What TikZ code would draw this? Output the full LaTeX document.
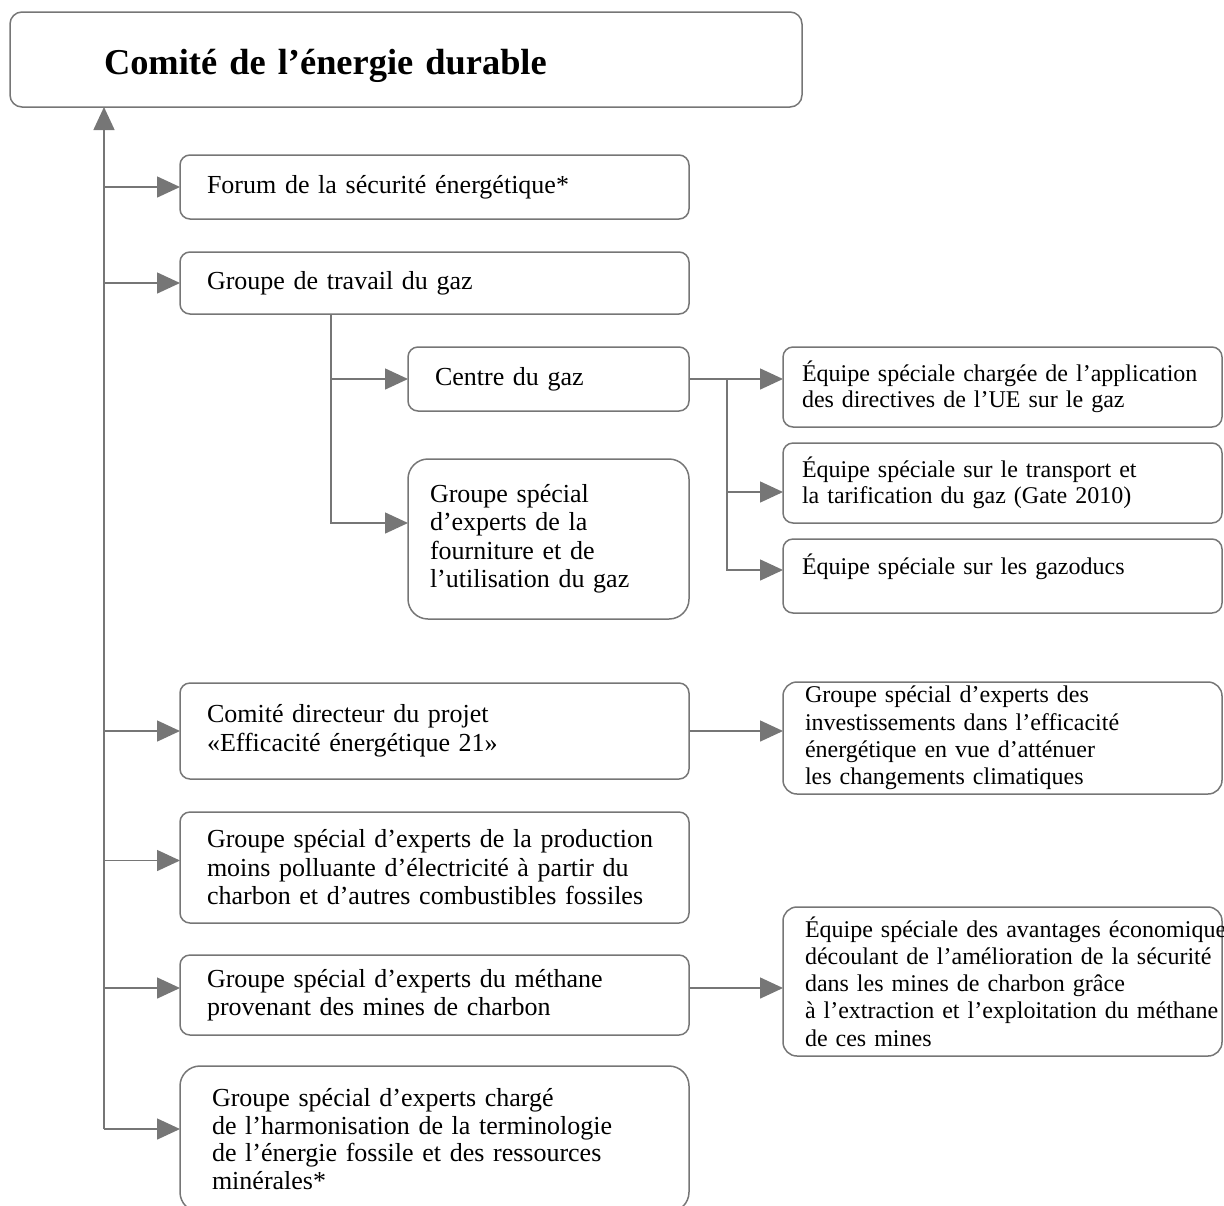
\documentclass[tikz,border=0pt]{standalone}
\usepackage{fontspec}
\setmainfont{Liberation Serif}
\usetikzlibrary{arrows.meta}
\definecolor{linegray}{RGB}{118,118,118}
\begin{document}
\begin{tikzpicture}[x=0.5pt,y=-0.5pt,line width=0.75pt,
	box/.style={draw=linegray,rounded corners=5pt,anchor=north west,align=left,inner ysep=1pt,outer sep=0pt,font=\fontsize{13}{14.25}\selectfont},
	lbox/.style={box,text width=227.5pt,inner xsep=13.5pt},
	rbox/.style={box,text width=200.5pt,inner xsep=9.5pt,font=\fontsize{12}{13.25}\selectfont},
	widebox/.style={box,text width=197.5pt,inner xsep=11pt,rounded corners=7pt,font=\fontsize{12}{13.6}\selectfont},
	titlebox/.style={box,rounded corners=6pt,text width=302pt,inner xsep=47pt,minimum height=47.5pt,text height=16pt,text depth=1.5pt,font=\fontsize{18.2}{22}\selectfont\bfseries},
	arr/.style={draw=linegray,-{Triangle[length=11.5pt,width=10.5pt,fill=linegray]}}]
	\useasboundingbox (0,0) rectangle (1224,1205);
	\clip (0,0) rectangle (1224,1205);
	\node[titlebox] (comite) at (10,12) {Comité de l’énergie durable};
	%%%
	\node[lbox,minimum height=32pt] (forum) at (180,155) {Forum de la sécurité énergétique*};
	\node[lbox,minimum height=31pt] (gaz) at (180,252) {Groupe de travail du gaz};
	\node[box,text width=113.5pt,inner xsep=13.5pt,minimum height=32pt] (centre) at (408,347) {Centre du gaz};
	\node[box,text width=118.5pt,inner xsep=11pt,minimum height=80pt,rounded corners=10pt] (fourniture) at (408,459) {Groupe spécial\\d’experts de la\\fourniture et de\\l’utilisation du gaz};
	\node[rbox,minimum height=40pt] (directives) at (783,347) {Équipe spéciale chargée de l’application\\des directives de l’UE sur le gaz};
	\node[rbox,minimum height=40pt] (transport) at (783,443) {Équipe spéciale sur le transport et\\la tarification du gaz (Gate 2010)};
	\node[rbox,minimum height=37pt,text depth=11.5pt] (gazoducs) at (783,539) {Équipe spéciale sur les gazoducs};
	%%%
	\node[lbox,minimum height=48pt] (ee21) at (180,683) {Comité directeur du projet\\«Efficacité énergétique 21»};
	\node[widebox,minimum height=56pt] (invest) at (783,682) {Groupe spécial d’experts des\\investissements dans l’efficacité\\énergétique en vue d’atténuer\\les changements climatiques};
	\node[lbox,minimum height=55.5pt] (charbon) at (180,812) {Groupe spécial d’experts de la production\\moins polluante d’électricité à partir du\\charbon et d’autres combustibles fossiles};
	\node[lbox,minimum height=40pt] (methane) at (180,955) {Groupe spécial d’experts du méthane\\provenant des mines de charbon};
	\node[widebox,minimum height=74.5pt] (avantages) at (783,907) {\mbox{Équipe spéciale des avantages économiques}\\\mbox{découlant de l’amélioration de la sécurité}\\dans les mines de charbon grâce\\\mbox{à l’extraction et l’exploitation du méthane}\\de ces mines};
	\node[box,text width=222.5pt,inner xsep=16pt,minimum height=73pt,rounded corners=10pt,font=\fontsize{13}{13.75}\selectfont] (terminologie) at (180,1066) {Groupe spécial d’experts chargé\\de l’harmonisation de la terminologie\\de l’énergie fossile et des ressources\\minérales*};
	%%%
	\coordinate (trunk) at (104,1129);
	\coordinate (gazfork) at (331,523);
	\coordinate (centrefork) at (727,570);
	\draw[arr] (trunk)--(trunk |- comite.south);
	\foreach \n in {forum,gaz,ee21}
		\draw[arr] (trunk |- \n.west)--(\n.west);
	\foreach \n in {charbon,methane}
		\draw[arr] ([yshift=3.5pt]\n.west -| trunk)--([yshift=3.5pt]\n.west);
	\draw[arr] (trunk)--(trunk -| terminologie.west);
	%%%
	\draw[arr] (gaz.south -| gazfork)--(gazfork)--(gazfork -| fourniture.west);
	\draw[arr] (gazfork |- centre.west)--(centre.west);
	\draw[arr] (centre.east)--(centre.east -| directives.west);
	\draw[arr] (centrefork |- centre.east)--(centrefork)--(centrefork -| gazoducs.west);
	\draw[arr] ([yshift=-4.5pt]transport.west -| centrefork)--([yshift=-4.5pt]transport.west);
	\draw[arr] (ee21.east)--(ee21.east -| invest.west);
	\draw[arr] ([yshift=3.5pt]methane.east)--([yshift=3.5pt]methane.east -| avantages.west);
\end{tikzpicture}
\end{document}
